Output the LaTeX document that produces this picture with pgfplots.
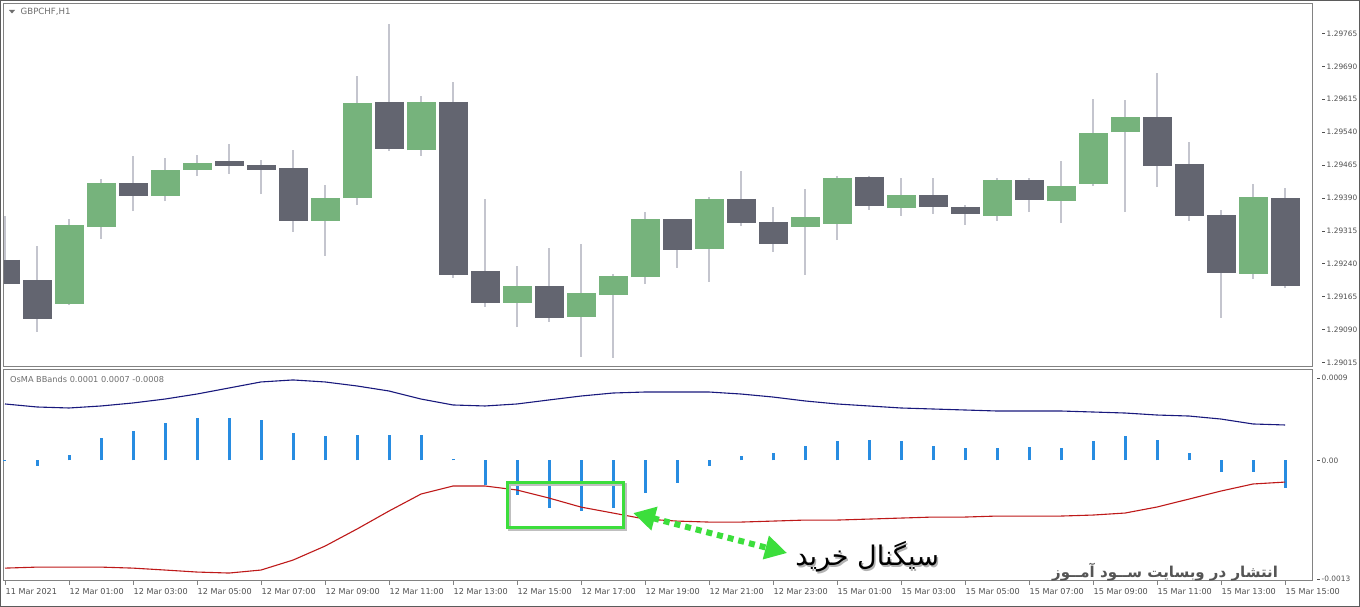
\documentclass[border=0pt]{standalone}
\usepackage{fontspec}
\setmainfont{DejaVu Sans}
\newfontfamily\arabicfont[Script=Arabic]{DejaVu Sans}
\usepackage{xfp}
\usepackage{pgfplots}
\pgfplotsset{compat=1.18}
\usepackage{pgfplotstable}
\usetikzlibrary{arrows.meta}
\TeXXeTstate=1

\definecolor{bullc}{RGB}{118,179,124}
\definecolor{bearc}{RGB}{99,101,112}
\definecolor{wickc}{RGB}{196,197,206}
\definecolor{framec}{RGB}{130,130,130}
\definecolor{labelc}{RGB}{80,80,80}
\definecolor{titlec}{RGB}{110,110,110}
\definecolor{histc}{RGB}{40,140,225}
\definecolor{bandup}{RGB}{25,25,125}
\definecolor{banddn}{RGB}{190,25,25}
\definecolor{boxg}{RGB}{60,222,60}
\definecolor{wmc}{RGB}{85,85,85}

\newcommand{\tk}{\rule[2.4pt]{3pt}{0.7pt}\hspace{1.5pt}}
\def\nanstr{nan}
% exact mapping price -> (price-1.29)*1e5 (units of 0.00001 above 1.29000), l3fp
\makeatletter
\def\prfl@#1Y#2e#3]#4\@nil{\ifcase#1 0\or\fpeval{(#2e#3-1.29)*100000}\or\fpeval{(-#2e#3-1.29)*100000}\else nan\fi}
\newcommand\pricetrafo[1]{%
  \edef\tmpv{#1}%
  \expandafter\in@\expandafter Y\expandafter{\tmpv}%
  \ifin@
    \edef\pgfmathresult{\expandafter\prfl@\tmpv\@nil}%
  \else
    \ifx\tmpv\nanstr
      \def\pgfmathresult{nan}%
    \else
      \edef\pgfmathresult{\fpeval{(\tmpv-1.29)*100000}}%
    \fi
  \fi}
\makeatother
\pgfplotsset{pricefilter/.style={y filter/.code={\edef\tmpin{\pgfmathresult}\pricetrafo{\tmpin}\pgfmathfloatparsenumber{\pgfmathresult}}}}

% indicator: x osma upper lower
\pgfplotstableread{
x h u d
0 0.00001 0.000618 -0.001179
1 -0.000061 0.000585 -0.001168
2 0.000059 0.000574 -0.001168
3 0.000245 0.000596 -0.001168
4 0.000322 0.000629 -0.001179
5 0.000410 0.000672 -0.001200
6 0.000464 0.000727 -0.001222
7 0.000464 0.000793 -0.001233
8 0.000442 0.000859 -0.001200
9 0.000300 0.000881 -0.001091
10 0.000267 0.000859 -0.000938
11 0.000278 0.000815 -0.000751
12 0.000278 0.000760 -0.000554
13 0.000278 0.000672 -0.000368
14 0.000015 0.000607 -0.000280
15 -0.000269 0.000596 -0.000280
16 -0.000379 0.000618 -0.000324
17 -0.000521 0.000662 -0.000412
18 -0.000554 0.000705 -0.000511
19 -0.000521 0.000738 -0.000576
20 -0.000357 0.000749 -0.000642
21 -0.000247 0.000749 -0.000664
22 -0.000061 0.000749 -0.000675
23 0.000048 0.000727 -0.000675
24 0.000081 0.000694 -0.000664
25 0.000158 0.000651 -0.000653
26 0.000212 0.000618 -0.000653
27 0.000223 0.000596 -0.000642
28 0.000212 0.000574 -0.000631
29 0.000158 0.000563 -0.000620
30 0.000136 0.000552 -0.000620
31 0.000136 0.000541 -0.000609
32 0.000147 0.000541 -0.000609
33 0.000136 0.000541 -0.000609
34 0.000212 0.000530 -0.000598
35 0.000267 0.000519 -0.000576
36 0.000223 0.000497 -0.000510
37 0.000081 0.000486 -0.000423
38 -0.000127 0.000453 -0.000335
39 -0.000127 0.000399 -0.000258
40 -0.000302 0.000388 -0.000237
}\ind

\begin{document}
\begin{tikzpicture}[x=1pt,y=1pt]
\path[use as bounding box, fill=white] (0,0) rectangle (1360,607);
\draw[framec!70!black, line width=1pt] (0.5,0.5) rectangle (1359.5,606.5);

% ---------- price panel (y axis in units of 0.00001 above 1.29000) ----------
\begin{axis}[
  pricefilter,
  at={(4pt,240pt)}, anchor=south west, scale only axis,
  width=1308pt, height=363pt,
  xmin=-0.03125, xmax=40.84375, ymin=5, ymax=832,
  axis line style={draw=framec, line width=1pt},
  xtick=\empty, scaled y ticks=false,
  ytick={15,90,165,240,315,390,465,540,615,690,765},
  yticklabels={\tk 1.29015,\tk 1.29090,\tk 1.29165,\tk 1.29240,\tk 1.29315,\tk 1.29390,\tk 1.29465,\tk 1.29540,\tk 1.29615,\tk 1.29690,\tk 1.29765},
  yticklabel pos=right, ytick pos=right,
  ytick style={draw=none},
  yticklabel style={anchor=west, inner sep=0pt, xshift=10pt, font=\fontsize{7.4}{8}\selectfont, text=labelc},
  unbounded coords=jump,
]
% wicks: low -> high of every hourly candle
\addplot[draw=wickc, line width=2pt, mark=none] coordinates {
(0,1.29194) (0,1.29349) (0,nan) (1,1.29085) (1,1.29281) (1,nan) (2,1.29146) (2,1.29342) (2,nan)
(3,1.29297) (3,1.29433) (3,nan) (4,1.29360) (4,1.29486) (4,nan) (5,1.29383) (5,1.29481) (5,nan)
(6,1.29440) (6,1.29488) (6,nan) (7,1.29445) (7,1.29513) (7,nan) (8,1.29399) (8,1.29477) (8,nan)
(9,1.29313) (9,1.29499) (9,nan) (10,1.29258) (10,1.29420) (10,nan) (11,1.29374) (11,1.29668) (11,nan)
(12,1.29497) (12,1.29786) (12,nan) (13,1.29486) (13,1.29622) (13,nan) (14,1.29208) (14,1.29654) (14,nan)
(15,1.29142) (15,1.29388) (15,nan) (16,1.29096) (16,1.29235) (16,nan) (17,1.29108) (17,1.29276) (17,nan)
(18,1.29028) (18,1.29285) (18,nan) (19,1.29026) (19,1.29217) (19,nan) (20,1.29194) (20,1.29358) (20,nan)
(21,1.29231) (21,1.29342) (21,nan) (22,1.29199) (22,1.29392) (22,nan) (23,1.29326) (23,1.29451) (23,nan)
(24,1.29267) (24,1.29370) (24,nan) (25,1.29215) (25,1.29410) (25,nan) (26,1.29294) (26,1.29440) (26,nan)
(27,1.29363) (27,1.29440) (27,nan) (28,1.29349) (28,1.29435) (28,nan) (29,1.29354) (29,1.29435) (29,nan)
(30,1.29329) (30,1.29374) (30,nan) (31,1.29338) (31,1.29435) (31,nan) (32,1.29358) (32,1.29435) (32,nan)
(33,1.29333) (33,1.29474) (33,nan) (34,1.29417) (34,1.29615) (34,nan) (35,1.29358) (35,1.29613) (35,nan)
(36,1.29415) (36,1.29675) (36,nan) (37,1.29338) (37,1.29518) (37,nan) (38,1.29117) (38,1.29363) (38,nan)
(39,1.29206) (39,1.29422) (39,nan) (40,1.29185) (40,1.29413)
};
% bullish bodies: open -> close
\addplot[draw=bullc, line width=29pt, mark=none] coordinates {
(2,1.29149) (2,1.29329) (2,nan) (3,1.29324) (3,1.29424) (3,nan) (5,1.29395) (5,1.29454) (5,nan)
(6,1.29454) (6,1.29470) (6,nan) (10,1.29338) (10,1.29390) (10,nan) (11,1.29390) (11,1.29606) (11,nan)
(13,1.29499) (13,1.29609) (13,nan) (16,1.29151) (16,1.29190) (16,nan) (18,1.29119) (18,1.29174) (18,nan)
(19,1.29169) (19,1.29212) (19,nan) (20,1.29210) (20,1.29342) (20,nan) (22,1.29274) (22,1.29388) (22,nan)
(25,1.29324) (25,1.29347) (25,nan) (26,1.29331) (26,1.29435) (26,nan) (28,1.29367) (28,1.29397) (28,nan)
(31,1.29349) (31,1.29431) (31,nan) (33,1.29383) (33,1.29417) (33,nan) (34,1.29422) (34,1.29538) (34,nan)
(35,1.29540) (35,1.29574) (35,nan) (39,1.29217) (39,1.29392)
};
% bearish bodies: open -> close
\addplot[draw=bearc, line width=29pt, mark=none] coordinates {
(0,1.29249) (0,1.29194) (0,nan) (1,1.29203) (1,1.29114) (1,nan) (4,1.29424) (4,1.29395) (4,nan)
(7,1.29474) (7,1.29463) (7,nan) (8,1.29465) (8,1.29454) (8,nan) (9,1.29458) (9,1.29338) (9,nan)
(12,1.29609) (12,1.29502) (12,nan) (14,1.29609) (14,1.29215) (14,nan) (15,1.29224) (15,1.29151) (15,nan)
(17,1.29190) (17,1.29117) (17,nan) (21,1.29342) (21,1.29272) (21,nan) (23,1.29388) (23,1.29333) (23,nan)
(24,1.29335) (24,1.29285) (24,nan) (27,1.29438) (27,1.29372) (27,nan) (29,1.29397) (29,1.29370) (29,nan)
(30,1.29370) (30,1.29354) (30,nan) (32,1.29431) (32,1.29385) (32,nan) (36,1.29574) (36,1.29463) (36,nan)
(37,1.29467) (37,1.29349) (37,nan) (38,1.29351) (38,1.29219) (38,nan) (40,1.29390) (40,1.29190)
};
\end{axis}

% ---------- indicator panel ----------
\begin{axis}[
  at={(4pt,26pt)}, anchor=south west, scale only axis,
  width=1308pt, height=211pt,
  xmin=-0.03125, xmax=40.84375, ymin=-0.00132, ymax=0.00099,
  axis line style={draw=framec, line width=1pt},
  clip=false, scaled y ticks=false, scaled x ticks=false,
  xtick={0,2,...,40},
  xticklabels={11 Mar 2021,12 Mar 01:00,12 Mar 03:00,12 Mar 05:00,12 Mar 07:00,12 Mar 09:00,12 Mar 11:00,12 Mar 13:00,12 Mar 15:00,12 Mar 17:00,12 Mar 19:00,12 Mar 21:00,12 Mar 23:00,15 Mar 01:00,15 Mar 03:00,15 Mar 05:00,15 Mar 07:00,15 Mar 09:00,15 Mar 11:00,15 Mar 13:00,15 Mar 15:00},
  xtick pos=bottom, tick align=outside, major tick length=4pt,
  xtick style={draw=framec, line width=0.8pt},
  xticklabel style={anchor=north west, inner sep=0pt, xshift=0.5pt, yshift=-3pt, font=\fontsize{8.1}{9}\selectfont, text=labelc},
  ytick={-0.0013,0,0.0009},
  yticklabels={\tk -0.0013,\tk 0.00,\tk 0.0009},
  yticklabel pos=right, ytick pos=right,
  ytick style={draw=none},
  yticklabel style={anchor=west, inner sep=0pt, xshift=1pt, font=\fontsize{7.4}{8}\selectfont, text=labelc},
]
\addplot[ycomb, draw=histc, line width=3pt, mark=none] table[x=x, y=h] {\ind};
\addplot[draw=bandup, line width=1.1pt, mark=none] table[x=x, y=u] {\ind};
\addplot[draw=banddn, line width=1.1pt, mark=none] table[x=x, y=d] {\ind};

% annotation: box and double arrow
\draw[black!25, line width=3pt] ([xshift=2pt,yshift=-2pt]axis cs:15.69,-0.000237) rectangle ([xshift=2pt,yshift=-2pt]axis cs:19.34,-0.000729);
\draw[boxg, line width=3pt] (axis cs:15.69,-0.000237) rectangle (axis cs:19.34,-0.000729);
\draw[boxg, line width=6pt, dash pattern=on 6pt off 5pt,
  {Triangle[length=22pt,width=23pt]}-{Triangle[length=22pt,width=23pt]}]
  (axis cs:19.63,-0.000576) -- (axis cs:24.44,-0.001014);
\node[text=black!30, font=\arabicfont\fontsize{27}{30}\selectfont] at ([xshift=1.5pt,yshift=-1.5pt]axis cs:26.94,-0.001058) {\beginR سیگنال خرید\endR};
\node[text=black, font=\arabicfont\fontsize{27}{30}\selectfont] at (axis cs:26.94,-0.001058) {\beginR سیگنال خرید\endR};
\node[text=wmc, font=\arabicfont\bfseries\fontsize{15}{18}\selectfont] at (axis cs:36.25,-0.001222) {\beginR انتشار در وبسایت ســود آمــوز\endR};
\end{axis}

% panel captions
\fill[titlec] (9,597) -- (15,597) -- (12,593.5) -- cycle;
\node[anchor=base west, inner sep=0pt, text=titlec, font=\fontsize{8.6}{10}\selectfont] at (20.5,592) {GBPCHF,H1};
\node[anchor=base west, inner sep=0pt, text=titlec, font=\fontsize{8.2}{10}\selectfont] at (10,224) {OsMA BBands 0.0001 0.0007 -0.0008};
\end{tikzpicture}
\end{document}
